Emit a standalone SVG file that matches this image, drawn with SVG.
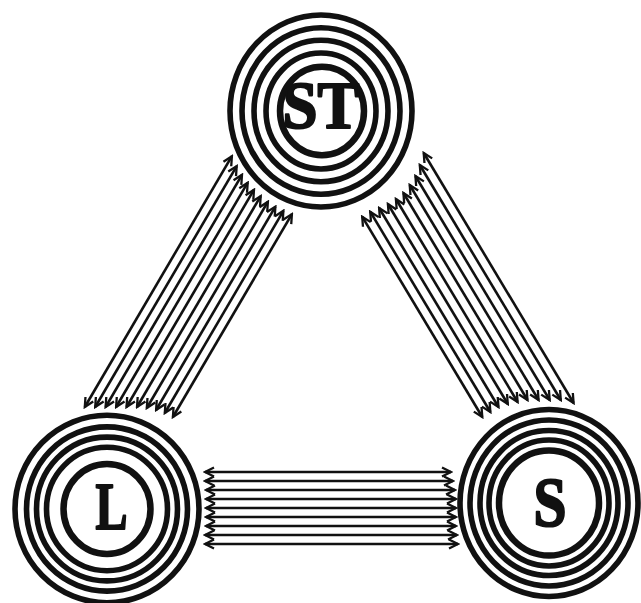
<svg xmlns="http://www.w3.org/2000/svg" width="641" height="603" viewBox="0 0 641 603">
<style>
.ring{fill:none;stroke:#111;stroke-width:5.6}
.inner{stroke-width:6.5}
.lbl{font-family:"Liberation Serif","DejaVu Serif",serif;font-weight:bold;fill:#111;stroke:#111;stroke-width:2.2;stroke-linejoin:round;text-anchor:middle}
#connectors line{stroke:#111;stroke-width:2.6;fill:none;marker-start:url(#ah);marker-end:url(#ah)}
</style>
<defs>
<marker id="ah" viewBox="-12 -7 14 14" refX="0" refY="0" markerWidth="14" markerHeight="14" markerUnits="userSpaceOnUse" orient="auto-start-reverse">
<path d="M-9,-4.5 L0,0 L-9,4.5" fill="none" stroke="#111" stroke-width="2.3"/>
</marker>
</defs>
<rect width="641" height="603" fill="#fff"/>
<g id="connectors">
<g id="edge-ST-L">
<line x1="231.9" y1="156.2" x2="84.8" y2="407"/>
<line x1="236.7" y1="166.1" x2="95.2" y2="407"/>
<line x1="242.0" y1="174.8" x2="105.6" y2="407"/>
<line x1="247.7" y1="182.7" x2="116.1" y2="407"/>
<line x1="254.0" y1="189.7" x2="126.5" y2="407"/>
<line x1="260.7" y1="196.1" x2="137.0" y2="407"/>
<line x1="267.9" y1="201.7" x2="146.8" y2="408"/>
<line x1="275.4" y1="206.6" x2="156.1" y2="410"/>
<line x1="283.4" y1="210.8" x2="164.8" y2="413"/>
<line x1="291.9" y1="214.1" x2="172.9" y2="417"/>
</g>
<g id="edge-ST-S">
<line x1="362.2" y1="216.7" x2="482.3" y2="417"/>
<line x1="370.2" y1="211.7" x2="490.4" y2="412"/>
<line x1="379.1" y1="208" x2="498.5" y2="407"/>
<line x1="387.9" y1="204" x2="507.8" y2="404"/>
<line x1="395.9" y1="199" x2="517.6" y2="402"/>
<line x1="403.4" y1="193" x2="527.5" y2="400"/>
<line x1="409.7" y1="185" x2="538.6" y2="400"/>
<line x1="415.4" y1="176" x2="549.7" y2="400"/>
<line x1="419.8" y1="165" x2="560.8" y2="400"/>
<line x1="423.7" y1="153" x2="573.6" y2="403"/>
</g>
<g id="edge-L-S">
<line x1="205" y1="472" x2="451" y2="472"/>
<line x1="205" y1="481" x2="453" y2="481"/>
<line x1="206" y1="490" x2="455" y2="490"/>
<line x1="206" y1="499" x2="456" y2="499"/>
<line x1="206" y1="508" x2="456" y2="508"/>
<line x1="206" y1="517" x2="456" y2="517"/>
<line x1="206" y1="526" x2="456" y2="526"/>
<line x1="205" y1="535" x2="457" y2="535"/>
<line x1="205" y1="544" x2="458" y2="544"/>
</g>
</g>
<g id="node-ST">
<ellipse class="ring" cx="321" cy="111" rx="91" ry="96"/>
<ellipse class="ring" cx="321" cy="111" rx="79" ry="83.3"/>
<ellipse class="ring" cx="321" cy="111" rx="67" ry="70.7"/>
<ellipse class="ring" cx="321" cy="111" rx="55" ry="58"/>
<ellipse class="ring inner" cx="322" cy="111" rx="42" ry="44.3"/>
<text class="lbl" x="321" y="128" font-size="68" textLength="77" lengthAdjust="spacingAndGlyphs">ST</text>
</g>
<g id="node-L">
<ellipse class="ring" cx="107" cy="509" rx="92" ry="93.8"/>
<ellipse class="ring" cx="107" cy="509" rx="80.5" ry="82.1"/>
<ellipse class="ring" cx="107" cy="509" rx="70.5" ry="71.9"/>
<ellipse class="ring" cx="107" cy="509" rx="60.5" ry="61.7"/>
<ellipse class="ring inner" cx="107" cy="509" rx="43.5" ry="45"/>
<text class="lbl" x="111.5" y="529" font-size="68" textLength="32" lengthAdjust="spacingAndGlyphs">L</text>
</g>
<g id="node-S">
<ellipse class="ring" cx="549" cy="503" rx="89" ry="93.5"/>
<ellipse class="ring" cx="549" cy="503" rx="79" ry="83"/>
<ellipse class="ring" cx="549" cy="503" rx="69" ry="72.5"/>
<ellipse class="ring" cx="549" cy="503" rx="60" ry="63"/>
<ellipse class="ring inner" cx="549" cy="503" rx="50" ry="52.5"/>
<text class="lbl" x="550" y="526" font-size="70" textLength="33" lengthAdjust="spacingAndGlyphs">S</text>
</g>
</svg>
